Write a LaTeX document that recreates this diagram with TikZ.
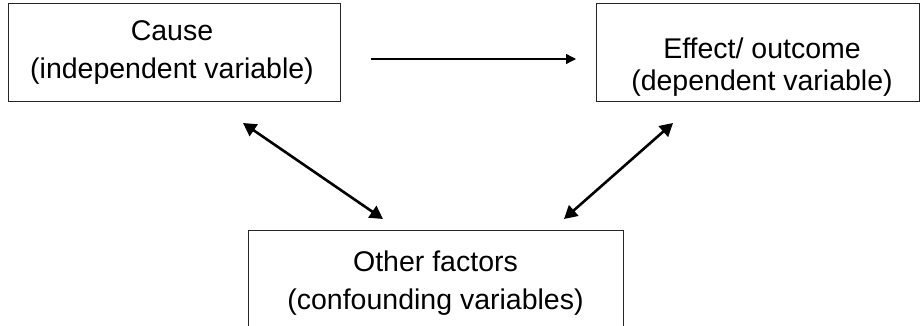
\documentclass[tikz,border=0pt]{standalone}
\usepackage{fontspec}
\setmainfont{Liberation Sans}
\usetikzlibrary{arrows.meta}
\begin{document}
\begin{tikzpicture}[x=1pt,y=-1pt,
  box/.style={draw=black!85, line width=1pt, minimum width=#1, inner sep=0pt},
  txt/.style={align=center, font=\fontsize{28.5}{38}\selectfont, inner sep=0pt},
  thinarrow/.style={line width=1.3pt, -{Triangle[length=10pt,width=10pt]}},
  thickarrow/.style={line width=2.6pt, {Triangle[length=13pt,width=14pt]}-{Triangle[length=13pt,width=14pt]}}]
\useasboundingbox (0,0) rectangle (920,326);
\clip (0,0) rectangle (920,326);
\fill[white] (0,0) rectangle (920,326);
% boxes
\node[box=332pt, minimum height=98pt] (cause) at (174,53) {};
\node[box=323pt, minimum height=98pt] (effect) at (757.5,53) {};
\node[box=375pt, minimum height=120pt] (other) at (435.5,290) {};
% texts
\node[txt] (causet) at (172,53) {Cause\\(independent variable)};
\node[txt, font=\fontsize{28.5}{32}\selectfont] (effectt) at (762,67) {Effect/ outcome\\(dependent variable)};
\node[txt] (othert) at (435.5,283.5) {Other factors\\(confounding variables)};
% connector anchors
\coordinate (a1) at (371,59);
\coordinate (a2) at (576,59);
\coordinate (l1) at (243,123);
\coordinate (l2) at (383,219);
\coordinate (r1) at (673,123);
\coordinate (r2) at (564,219);
\draw[thinarrow] (a1) -- (a2);
\draw[thickarrow] (l1) -- (l2);
\draw[thickarrow] (r1) -- (r2);
\end{tikzpicture}
\end{document}
